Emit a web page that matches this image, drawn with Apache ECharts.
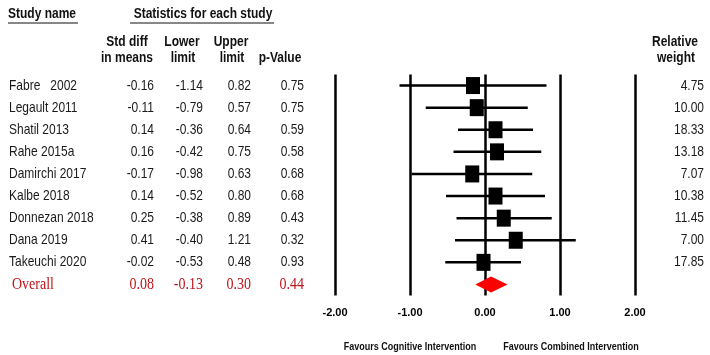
<!DOCTYPE html>
<html>
<head>
<meta charset="utf-8">
<script src="https://cdn.jsdelivr.net/npm/echarts@6/dist/echarts.min.js"></script>
<style>
  html, body { margin: 0; padding: 0; background: #fff; }
  #forest { width: 710px; height: 355px; }
</style>
</head>
<body>
<div id="forest"></div>
<script>
var studies = ['Fabre   2002', 'Legault 2011', 'Shatil 2013', 'Rahe 2015a', 'Damirchi 2017',
  'Kalbe 2018', 'Donnezan 2018', 'Dana 2019', 'Takeuchi 2020'];
var stdDiff = [-0.16, -0.11, 0.14, 0.16, -0.17, 0.14, 0.25, 0.41, -0.02];
var lowerLimit = [-1.14, -0.79, -0.36, -0.42, -0.98, -0.52, -0.38, -0.40, -0.53];
var upperLimit = [0.82, 0.57, 0.64, 0.75, 0.63, 0.80, 0.89, 1.21, 0.48];
var pValues = [0.75, 0.75, 0.59, 0.58, 0.68, 0.68, 0.43, 0.32, 0.93];
var relWeight = [4.75, 10.00, 18.33, 13.18, 7.07, 10.38, 11.45, 7.00, 17.85];
var overallName = 'Overall';
var overallStats = [0.08, -0.13, 0.30, 0.44];
var axisTicks = [-2, -1, 0, 1, 2];

var sans = "'Liberation Sans', Arial, sans-serif";
var serif = "'Liberation Serif', 'Times New Roman', serif";
var darkRed = '#c0141c';
var stretch = 1.25;

var rows = studies.concat([overallName]);
var studyData = stdDiff.map(function (d, i) {
  return [d, lowerLimit[i], upperLimit[i], i];
});

// column right edges for the stats table
var colRight = [154, 203, 251, 304];

function stretchedText(x, y, text, align, font, color) {
  return {
    type: 'text', x: x, y: y, scaleY: stretch, silent: true,
    style: { x: 0, y: 0, text: text, align: align, verticalAlign: 'middle', font: font, fill: color }
  };
}

var chartDom = document.getElementById('forest');
var myChart = echarts.init(chartDom);
var option;

var boldHead = 'bold 12px ' + sans;

option = {
  animation: false,
  grid: { left: 335, right: 75, top: 74.5, height: 221 },
  xAxis: {
    type: 'value',
    min: axisTicks[0],
    max: axisTicks[axisTicks.length - 1],
    interval: 1,
    axisLine: { show: false },
    axisTick: { show: false },
    splitLine: { show: true, lineStyle: { color: '#000', width: 2.5 } },
    axisLabel: {
      margin: 12,
      color: '#000',
      fontFamily: sans,
      fontWeight: 'bold',
      fontSize: 11,
      formatter: function (v) { return v.toFixed(2); }
    }
  },
  yAxis: {
    type: 'category',
    inverse: true,
    data: rows,
    show: false
  },
  graphic: [
    stretchedText(8, 14, 'Study name', 'left', boldHead, '#111'),
    { type: 'line', silent: true, shape: { x1: 8, y1: 23, x2: 78, y2: 23 }, style: { stroke: '#111', lineWidth: 1.2 } },
    stretchedText(203, 14, 'Statistics for each study', 'center', boldHead, '#111'),
    { type: 'line', silent: true, shape: { x1: 130, y1: 23, x2: 274, y2: 23 }, style: { stroke: '#111', lineWidth: 1.2 } },
    stretchedText(127, 42, 'Std diff', 'center', boldHead, '#111'),
    stretchedText(127, 58, 'in means', 'center', boldHead, '#111'),
    stretchedText(182, 42, 'Lower', 'center', boldHead, '#111'),
    stretchedText(183, 58, 'limit', 'center', boldHead, '#111'),
    stretchedText(231, 42, 'Upper', 'center', boldHead, '#111'),
    stretchedText(232, 58, 'limit', 'center', boldHead, '#111'),
    stretchedText(280, 58, 'p-Value', 'center', boldHead, '#111'),
    stretchedText(675, 42, 'Relative', 'center', boldHead, '#111'),
    stretchedText(676, 58, 'weight', 'center', boldHead, '#111'),
    stretchedText(410, 347, 'Favours Cognitive Intervention', 'center', 'bold 9px ' + sans, '#111'),
    stretchedText(571, 347, 'Favours Combined Intervention', 'center', 'bold 9px ' + sans, '#111')
  ],
  series: [
    {
      // table text for each row
      type: 'custom',
      clip: false,
      silent: true,
      data: rows.map(function (r, i) { return [0, i]; }),
      encode: { x: 0, y: 1 },
      renderItem: function (params, api) {
        var i = api.value(1);
        var y = api.coord([0, i])[1];
        var kids = [];
        if (i < studies.length) {
          var font = '12px ' + sans;
          var col = '#1a1a1a';
          kids.push(stretchedText(9, y, studies[i], 'left', font, col));
          var vals = [stdDiff[i], lowerLimit[i], upperLimit[i], pValues[i]];
          vals.forEach(function (v, k) {
            kids.push(stretchedText(colRight[k], y, v.toFixed(2), 'right', font, col));
          });
          kids.push(stretchedText(704, y, relWeight[i].toFixed(2), 'right', font, col));
        } else {
          var sf = '14px ' + serif;
          kids.push(stretchedText(12, y, overallName, 'left', sf, darkRed));
          overallStats.forEach(function (v, k) {
            kids.push(stretchedText(colRight[k], y, v.toFixed(2), 'right', sf, darkRed));
          });
        }
        return { type: 'group', children: kids };
      }
    },
    {
      // confidence intervals and point estimates
      type: 'custom',
      clip: false,
      data: studyData,
      encode: { x: [0, 1, 2], y: 3 },
      renderItem: function (params, api) {
        var row = api.value(3);
        var c = api.coord([api.value(0), row]);
        var lo = api.coord([api.value(1), row]);
        var hi = api.coord([api.value(2), row]);
        var w = 14, h = 17;
        return {
          type: 'group',
          children: [
            { type: 'line', shape: { x1: lo[0], y1: c[1], x2: hi[0], y2: c[1] }, style: { stroke: '#000', lineWidth: 2.5 } },
            { type: 'rect', shape: { x: c[0] - w / 2, y: c[1] - h / 2, width: w, height: h }, style: { fill: '#000' } }
          ]
        };
      }
    },
    {
      // overall diamond
      type: 'custom',
      clip: false,
      data: [[overallStats[0], overallStats[1], overallStats[2], studies.length]],
      encode: { x: [0, 1, 2], y: 3 },
      renderItem: function (params, api) {
        var row = api.value(3);
        var c = api.coord([api.value(0), row]);
        var lo = api.coord([api.value(1), row]);
        var hi = api.coord([api.value(2), row]);
        return {
          type: 'polygon',
          shape: { points: [[lo[0], c[1]], [c[0], c[1] - 8], [hi[0], c[1]], [c[0], c[1] + 8]] },
          style: { fill: '#ff0000' }
        };
      }
    }
  ]
};

option && myChart.setOption(option);
</script>
</body>
</html>
